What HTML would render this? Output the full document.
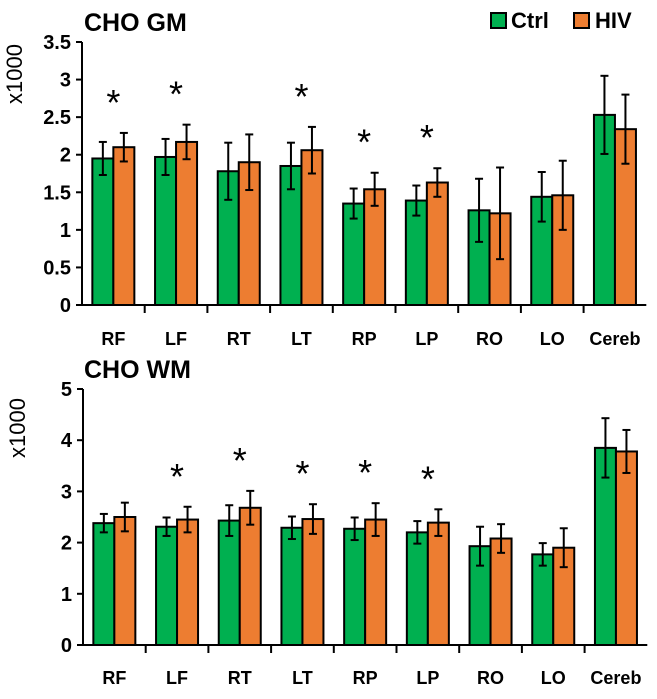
<!DOCTYPE html>
<html><head><meta charset="utf-8"><style>
body{margin:0;background:#fff;width:657px;height:694px;overflow:hidden}
svg text{font-family:"Liberation Sans",Arial,sans-serif}
</style></head><body>
<svg id="chart" width="657" height="694" xmlns="http://www.w3.org/2000/svg">
<text x="84" y="31" font-size="25" font-weight="bold">CHO GM</text>
<text x="84" y="378" font-size="25" font-weight="bold">CHO WM</text>
<g>
<rect x="491" y="13" width="15" height="15" fill="#00b050" stroke="#000" stroke-width="2"/>
<text x="511" y="28" font-size="22" font-weight="bold">Ctrl</text>
<rect x="574" y="13" width="15" height="15" fill="#ed7d31" stroke="#000" stroke-width="2"/>
<text x="595" y="28" font-size="22" font-weight="bold">HIV</text>
</g>
</svg>
<script>
const categories=["RF","LF","RT","LT","RP","LP","RO","LO","Cereb"];
const gmCtrl=[1.95,1.97,1.78,1.85,1.35,1.39,1.26,1.44,2.53];
const gmCtrlErr=[0.22,0.24,0.38,0.31,0.20,0.20,0.42,0.33,0.52];
const gmHiv=[2.10,2.17,1.90,2.06,1.54,1.63,1.22,1.46,2.34];
const gmHivErr=[0.19,0.23,0.37,0.31,0.22,0.19,0.61,0.46,0.46];
const gmSig=[1,1,0,1,1,1,0,0,0];
const gmTicks=["0","0.5","1","1.5","2","2.5","3","3.5"];
const wmCtrl=[2.38,2.31,2.43,2.29,2.27,2.20,1.93,1.77,3.85];
const wmCtrlErr=[0.18,0.18,0.30,0.22,0.22,0.22,0.38,0.22,0.58];
const wmHiv=[2.50,2.45,2.68,2.46,2.45,2.39,2.08,1.90,3.78];
const wmHivErr=[0.28,0.25,0.33,0.29,0.32,0.26,0.28,0.38,0.42];
const wmSig=[0,1,1,1,1,1,0,0,0];
const wmTicks=["0","1","2","3","4","5"];

const svg=document.getElementById('chart');
const NS="http://www.w3.org/2000/svg";
function mk(tag,attrs,parent){const e=document.createElementNS(NS,tag);for(const k in attrs)e.setAttribute(k,attrs[k]);(parent||svg).appendChild(e);return e;}

function drawPanel(p,ctrl,ctrlErr,hiv,hivErr,sig,ticks,tickStep,yMax,prefix){
  const x0=p.x0,y0=p.y0,yTop=p.yTop,cw=p.cw;
  const y=v=>y0-(v/yMax)*(y0-yTop);
  const g=mk('g',{});
  
  
  const ya=mk('line',{x1:x0,y1:yTop,x2:x0,y2:y0,stroke:'#000','stroke-width':2},g);
  
  
  ticks.forEach((t,i)=>{
    const v=i*tickStep,yy=y(v);
    const tk=mk('line',{x1:x0-6,y1:yy,x2:x0,y2:yy,stroke:'#000','stroke-width':2},g);
    
    
    const tl=mk('text',{x:x0-11,y:yy+7,'text-anchor':'end','font-size':20,'font-weight':'bold'},g);
    tl.textContent=t;
    
    
  });
  const yt=mk('text',{x:0,y:0,'font-size':22,transform:`translate(${p.titleX},${p.titleY}) rotate(-90)`,'text-anchor':'middle'},g);
  yt.textContent='x1000';
  
  
  const xa=mk('line',{x1:x0,y1:y0,x2:x0+cw*categories.length,y2:y0,stroke:'#000','stroke-width':2},g);
  
  
  categories.forEach((c,i)=>{
    const cx=x0+cw*i;
    if(i>0){const tk=mk('line',{x1:cx,y1:y0,x2:cx,y2:y0+8,stroke:'#000','stroke-width':2},g);
      
      }
    const mid=cx+cw/2;
    const series=[[ctrl[i],ctrlErr[i],'#00b050',mid-21,'ctrl'],[hiv[i],hivErr[i],'#ed7d31',mid,'hiv']];
    let topErr=0;
    series.forEach(s=>{
      const b=mk('rect',{x:s[3],y:y(s[0]),width:21,height:y0-y(s[0]),fill:s[2],stroke:'#000','stroke-width':2},g);
      
      
      const ex=s[3]+10.5,hi=s[0]+s[1],lo=s[0]-s[1];
      topErr=Math.max(topErr,hi);
      const eg=mk('g',{stroke:'#000','stroke-width':2},g);
      
      
      mk('line',{x1:ex,y1:y(hi),x2:ex,y2:y(lo)},eg);
      mk('line',{x1:ex-4,y1:y(hi),x2:ex+4,y2:y(hi)},eg);
      mk('line',{x1:ex-4,y1:y(lo),x2:ex+4,y2:y(lo)},eg);
    });
    if(sig[i]){
      const a=mk('text',{x:mid,y:y(topErr)-18,'text-anchor':'middle','font-size':36},g);
      a.textContent='*';
      
      
    }
    const cl=mk('text',{x:mid,y:y0+p.labelDy,'text-anchor':'middle','font-size':18,'font-weight':'bold'},g);
    cl.textContent=c;
    
    
  });
}
drawPanel({x0:82,y0:305,yTop:42,cw:62.7,titleX:22,titleY:74,labelDy:40},gmCtrl,gmCtrlErr,gmHiv,gmHivErr,gmSig,gmTicks,0.5,3.5,'gm');
drawPanel({x0:83,y0:645,yTop:389,cw:62.7,titleX:25,titleY:428,labelDy:39},wmCtrl,wmCtrlErr,wmHiv,wmHivErr,wmSig,wmTicks,1,5,'wm');
</script>
</body></html>
